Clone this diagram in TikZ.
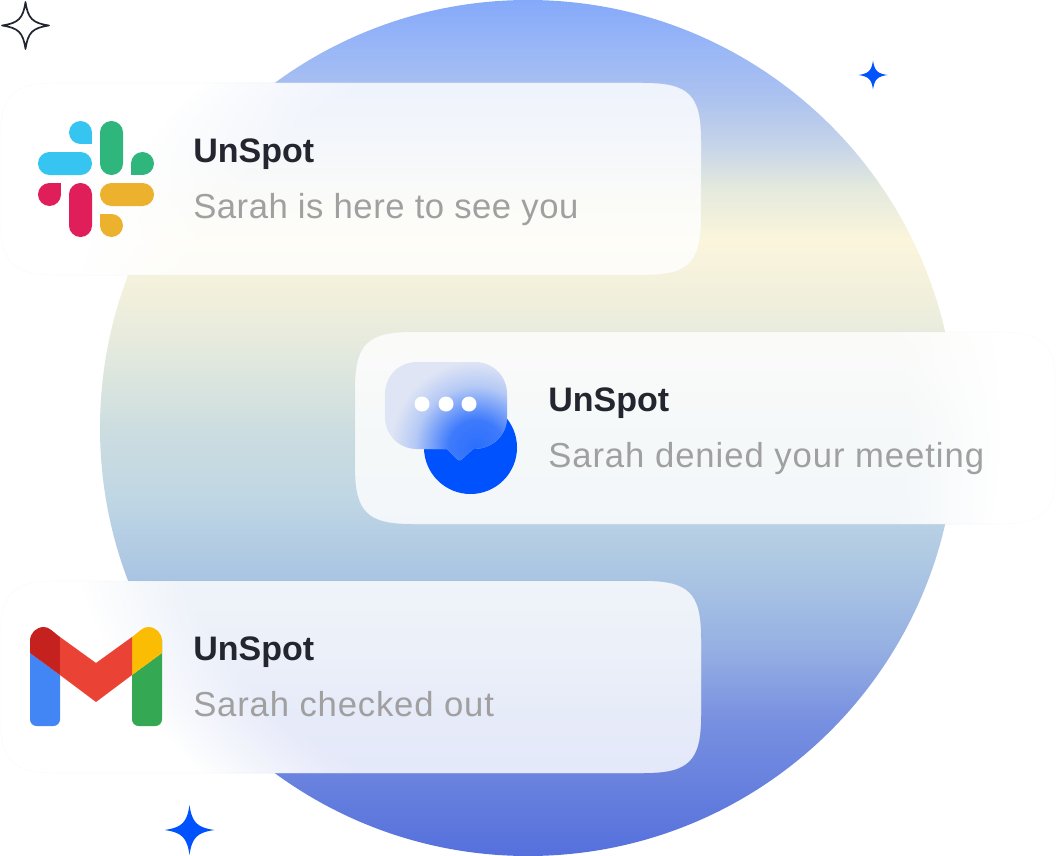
\documentclass[tikz,border=0pt]{standalone}
\usepackage{fontspec}
\setmainfont{Liberation Sans}
\usetikzlibrary{fadings}

\definecolor{disca}{HTML}{85A9FA}
\definecolor{discaa}{HTML}{9AB7F6}
\definecolor{discb}{HTML}{ADC3EF}
\definecolor{discc}{HTML}{C9D6E8}
\definecolor{discd}{HTML}{E5EADD}
\definecolor{disce}{HTML}{FBF5DC}
\definecolor{discf}{HTML}{F2F0DC}
\definecolor{discg}{HTML}{E9ECDD}
\definecolor{disch}{HTML}{D5E2DF}
\definecolor{disci}{HTML}{CCDDE0}
\definecolor{discj}{HTML}{BFD6E4}
\definecolor{disck}{HTML}{A9C4E3}
\definecolor{discl}{HTML}{95AFE3}
\definecolor{discm}{HTML}{7890E0}
\definecolor{discn}{HTML}{5570DC}
\definecolor{starblue}{HTML}{0052FF}
\definecolor{titledark}{HTML}{23262F}
\definecolor{subgrey}{HTML}{A0A0A0}
\definecolor{bubblepale}{HTML}{DFE5F4}
\definecolor{slackblue}{HTML}{36C5F0}
\definecolor{slackgreen}{HTML}{2EB67D}
\definecolor{slackred}{HTML}{E01E5A}
\definecolor{slackyellow}{HTML}{ECB22E}
\definecolor{gmailblue}{HTML}{4285F4}
\definecolor{gmaildark}{HTML}{C5221F}
\definecolor{gmailred}{HTML}{EA4335}
\definecolor{gmailyellow}{HTML}{FBBC04}
\definecolor{gmailgreen}{HTML}{34A853}

\pgfdeclareverticalshading{discsharp}{100bp}{color(0bp)=(discn); color(25bp)=(discn);
 color(32.94bp)=(discm); color(37.03bp)=(discl); color(41.12bp)=(disck); color(45.79bp)=(discj);
 color(49.88bp)=(disci); color(51.64bp)=(disch); color(55.72bp)=(discg); color(58.06bp)=(discf);
 color(60.98bp)=(disce); color(63.90bp)=(discd); color(66.24bp)=(discc); color(69.16bp)=(discb);
 color(72.08bp)=(discaa); color(75bp)=(disca); color(100bp)=(disca)}
\pgfdeclareverticalshading{discsoft}{100bp}{color(0bp)=(discn); color(27.38bp)=(discn);
 color(34.56bp)=(discm); color(38.26bp)=(discl); color(41.96bp)=(disck); color(46.19bp)=(discj);
 color(49.89bp)=(disci); color(51.48bp)=(disch); color(55.18bp)=(discg); color(57.29bp)=(discf);
 color(59.94bp)=(disce); color(62.58bp)=(discd); color(64.69bp)=(discc); color(67.34bp)=(discb);
 color(69.98bp)=(discaa); color(72.62bp)=(disca); color(100bp)=(disca)}
\pgfdeclareradialshading{bubbleglowmask}{\pgfpointorigin}{color(0bp)=(pgftransparent!20);
 color(8bp)=(pgftransparent!28); color(13bp)=(pgftransparent!55); color(18bp)=(pgftransparent!82);
 color(25bp)=(pgftransparent!100); color(50bp)=(pgftransparent!100)}
\pgfdeclarefading{bubbleglow}{\pgfuseshading{bubbleglowmask}}

\newcommand{\cardshape}[4]{(#1+58,#2) -- (#3-58,#2) .. controls (#3-12,#2) and (#3,#2+12) .. (#3,#2+58)
 -- (#3,#4-58) .. controls (#3,#4-12) and (#3-12,#4) .. (#3-58,#4)
 -- (#1+58,#4) .. controls (#1+12,#4) and (#1,#4-12) .. (#1,#4-58)
 -- (#1,#2+58) .. controls (#1,#2+12) and (#1+12,#2) .. (#1+58,#2) -- cycle}
\newcommand{\glasscard}[4]{%
 \begin{scope}
  \clip \cardshape{#1}{#2}{#3}{#4};
  \fill[white] (0,0) rectangle (1056,856);
  \shade[shading=discsoft,path fading=circle with fuzzy edge 20 percent] (528,428) circle[radius=473];
  \fill[white,opacity=.82] (0,0) rectangle (1056,856);
 \end{scope}
 \draw[black,opacity=.02] \cardshape{#1}{#2}{#3}{#4};}
% drop of the slack logo: centre #2, square corner #3
\newcommand{\slackdrop}[3]{\fill[#1] #2 circle[radius=11.5]; \fill[#1] #2 rectangle #3;}

\begin{document}
\begin{tikzpicture}[x=.75pt,y=-.75pt,
  cardtitle/.style = {anchor=base west,inner sep=0pt,text=titledark,
        font=\bfseries\fontsize{25.5}{30}\selectfont},
  cardtext/.style = {anchor=base west,inner sep=0pt,text=subgrey,
        font=\fontsize{26}{30}\selectfont\addfontfeature{LetterSpace=#1}},
  slackpill/.style = {rounded corners=8.6pt},
  sparkle/.pic = {\path[pic actions] (0,-1) .. controls (.1,-.3) and (.3,-.1) .. (1,0)
        .. controls (.3,.1) and (.1,.3) .. (0,1) .. controls (-.1,.3) and (-.3,.1) .. (-1,0)
        .. controls (-.3,-.1) and (-.1,-.3) .. (0,-1) -- cycle;}]
 \useasboundingbox (0,0) rectangle (1056,856);
 \shade[shading=discsharp] (528,428) circle[radius=428];

 \glasscard{0}{83}{701}{275}
 \glasscard{355}{332}{1056}{524}
 \glasscard{0}{581}{701}{773}

 \pic[draw=titledark,line width=1.3pt,line join=round,scale=23.5] (sparkdark) at (25.5,25.5) {sparkle};
 \pic[fill=starblue,scale=14.5] (sparkright) at (873,75) {sparkle};
 \pic[fill=starblue,scale=25] (sparkbottom) at (189.5,830) {sparkle};

 % slack
 \slackdrop{slackblue}{(80.5,132.5)}{(92,144)}
 \fill[slackblue,slackpill] (38,152) rectangle (92,175);
 \fill[slackgreen,slackpill] (100,121) rectangle (123,175);
 \slackdrop{slackgreen}{(142.5,163.5)}{(131,175)}
 \slackdrop{slackred}{(49.5,194.5)}{(61,183)}
 \fill[slackred,slackpill] (69,183) rectangle (92,237);
 \fill[slackyellow,slackpill] (100,183) rectangle (154,206);
 \slackdrop{slackyellow}{(111.5,225.5)}{(100,214)}

 % chat bubble
 \fill[starblue] (470.5,447.5) circle[radius=46.5];
 \begin{scope}
  \clip (417,362) -- (475,362) .. controls (493,362) and (507,376) .. (507,394)
   -- (507,417) .. controls (507,435) and (493,449) .. (473,449)
   -- (461,460) -- (458,460) -- (447,449) -- (417,449)
   .. controls (399,449) and (385,435) .. (385,417) -- (385,394)
   .. controls (385,376) and (399,362) .. (417,362) -- cycle;
  \fill[bubblepale] (380,355) rectangle (512,465);
  \fill[starblue,path fading=bubbleglow] (476,447) circle[radius=85];
 \end{scope}
 \foreach \dotx in {422,446,469}
  \fill[white] (\dotx,404) circle[radius=7.5];

 % gmail
 \fill[gmailblue,rounded corners=5pt] (30,640) -- (30,726) -- (60,726) [sharp corners] -- (60,675) -- (30,653) -- cycle;
 \fill[gmailgreen,rounded corners=5pt] (162,640) -- (162,726) -- (132,726) [sharp corners] -- (132,675) -- (162,653) -- cycle;
 \fill[gmaildark] (30,653) -- (60,675) -- (60,637) .. controls (52,631) and (49,627) .. (44,627)
   .. controls (36,627) and (30,633) .. (30,641) -- cycle;
 \fill[gmailyellow] (162,653) -- (132,675) -- (132,637) .. controls (140,631) and (143,627) .. (148,627)
   .. controls (156,627) and (162,633) .. (162,641) -- cycle;
 \fill[gmailred] (60,637) -- (96,663) -- (132,637) -- (132,675) -- (96,702) -- (60,675) -- cycle;

 \node[cardtitle] (title1) at (193,162) {UnSpot};
 \node[cardtext=1.5] (text1) at (193,218) {Sarah is here to see you};
 \node[cardtitle] (title2) at (548,411) {UnSpot};
 \node[cardtext=2.7] (text2) at (548,467) {Sarah denied your meeting};
 \node[cardtitle] (title3) at (193,660) {UnSpot};
 \node[cardtext=2.4] (text3) at (193,716) {Sarah checked out};
\end{tikzpicture}
\end{document}
